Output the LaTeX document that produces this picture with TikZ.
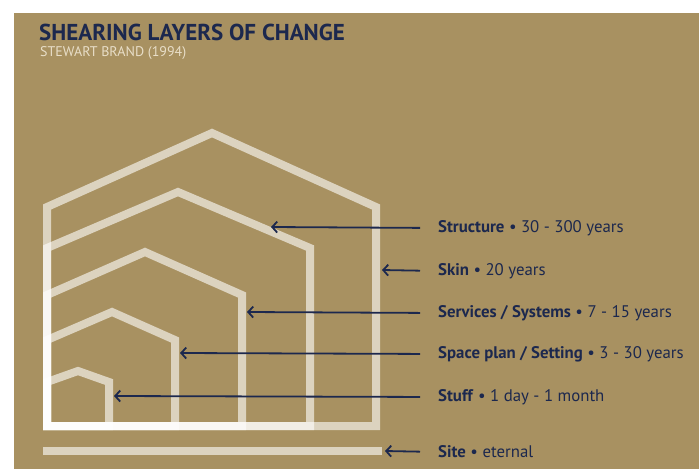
\documentclass[tikz,border=0pt]{standalone}
\usepackage{fontspec}
\setmainfont{PT Sans}
\usetikzlibrary{arrows.meta}

\definecolor{gold}{RGB}{168,145,97}
\definecolor{navy}{RGB}{28,40,78}
\definecolor{cream}{RGB}{232,222,200}

\begin{document}
\begin{tikzpicture}[x=1pt,y=-1pt,
  layer/.style={draw=white,draw opacity=0.6,line width=8pt,miter limit=20},
  pointer/.style={-{Straight Barb[length=5pt,width=11pt]},draw=navy,line width=1.8pt,shorten <=18pt},
  label node/.style={anchor=west,inner sep=0pt,text=navy,font=\fontsize{16.8}{18}\selectfont}]

  \useasboundingbox (0,0) rectangle (699,469);
  \fill[gold] (14,13) rectangle (699,469);

  % title
  \node[anchor=west,inner sep=0pt,text=navy,font=\fontsize{23}{25}\selectfont\bfseries] (title) at (39,32) {SHEARING LAYERS OF CHANGE};
  \node[anchor=west,inner sep=0pt,text=cream,font=\fontsize{14}{16}\selectfont] (author) at (40,53) {STEWART BRAND (1994)};

  % layers
  \draw[layer] (47,426) -- (47,207) -- (212,133) -- (376,207) -- (376,426) -- cycle;
  \draw[layer] (47,426) -- (47,248) -- (178,192) -- (310,248) -- (310,426) -- cycle;
  \draw[layer] (47,426) -- (47,295) -- (145,252) -- (242,295) -- (242,426) -- cycle;
  \draw[layer] (47,426) -- (47,340) -- (112,312) -- (175,340) -- (175,426) -- cycle;
  \draw[layer] (47,426) -- (47,382) -- (78,371) -- (109,382) -- (109,426) -- cycle;
  \draw[layer] (43,451) -- (382,451);

  % arrow tips
  \coordinate (structure tip) at (271,227);
  \coordinate (skin tip) at (382,270);
  \coordinate (services tip) at (247,312);
  \coordinate (space tip) at (180,353);
  \coordinate (stuff tip) at (114,396);
  \coordinate (site tip) at (385,451);

  % labels
  \node[label node] (structure) at (438,228) {\textbf{Structure} • 30 - 300 years};
  \node[label node] (skin) at (438,271) {\textbf{Skin} • 20 years};
  \node[label node] (services) at (438,313) {\textbf{Services / Systems} • 7 - 15 years};
  \node[label node] (space) at (438,354) {\textbf{Space plan / Setting} • 3 - 30 years};
  \node[label node] (stuff) at (438,397) {\textbf{Stuff} • 1 day - 1 month};
  \node[label node] (site) at (438,452) {\textbf{Site} • eternal};

  \draw[pointer] (structure.west) -- (structure tip);
  \draw[pointer] (skin.west) -- (skin tip);
  \draw[pointer] (services.west) -- (services tip);
  \draw[pointer] (space.west) -- (space tip);
  \draw[pointer] (stuff.west) -- (stuff tip);
  \draw[pointer] (site.west) -- (site tip);

\end{tikzpicture}
\end{document}
